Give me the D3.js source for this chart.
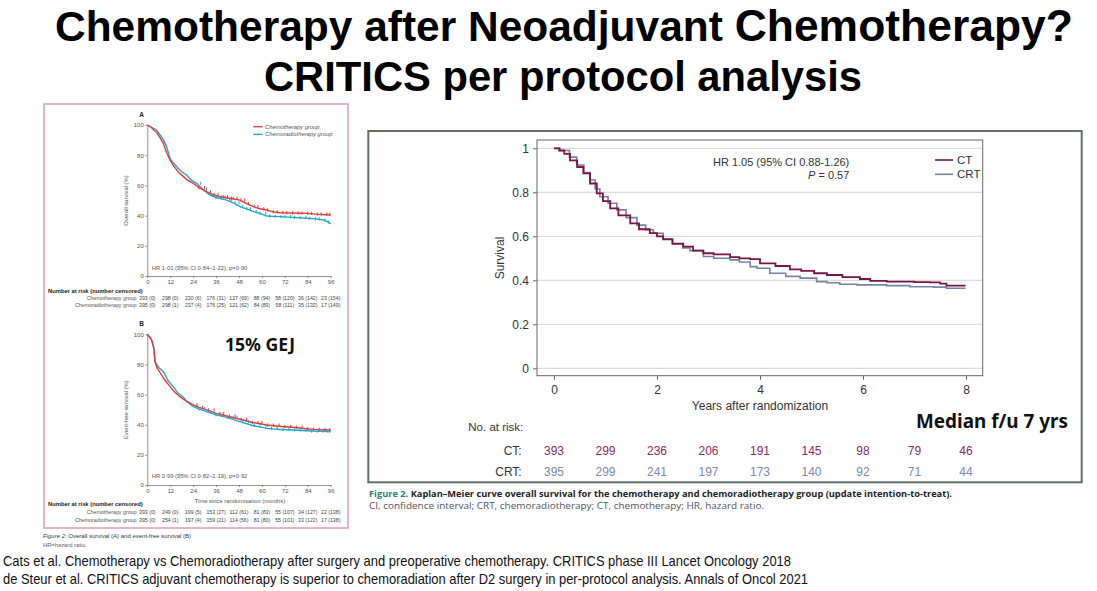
<!DOCTYPE html>
<html><head><meta charset="utf-8">
<script src="https://cdn.jsdelivr.net/npm/d3@7/dist/d3.min.js"></script>
<style>
html,body{margin:0;padding:0;background:#fff;}
svg{display:block;}
</style></head>
<body>
<script>
// ---------- DATA ----------
const titleLine1a = "Chemotherapy after Neoadjuvant ";
const titleLine1b = "Chemotherapy?";
const titleLine2 = "CRITICS per protocol analysis";

// Right chart (de Steur 2021): years vs survival
const yearTicks = [0, 2, 4, 6, 8];
const riskYears = [0, 1, 2, 3, 4, 5, 6, 7, 8];
const survTicks = [0, 0.2, 0.4, 0.6, 0.8, 1];
const ctRisk = [393, 299, 236, 206, 191, 145, 98, 79, 46];
const crtRisk = [395, 299, 241, 197, 173, 140, 92, 71, 44];
const ctCurve = [[0,1.0],[0.1,0.99],[0.2,0.975],[0.31,0.945],[0.45,0.915],[0.57,0.886],[0.7,0.84],[0.83,0.795],[0.95,0.76],[1.09,0.727],[1.25,0.695],[1.48,0.659],[1.65,0.632],[1.86,0.614],[2.0,0.6],[2.12,0.586],[2.3,0.567],[2.51,0.553],[2.7,0.535],[2.9,0.523],[3.1,0.518],[3.42,0.505],[3.6,0.5],[3.81,0.496],[4.0,0.477],[4.3,0.465],[4.58,0.45],[4.8,0.443],[5.05,0.432],[5.3,0.424],[5.6,0.414],[5.94,0.406],[6.14,0.397],[6.46,0.394],[7.0,0.392],[7.3,0.391],[7.5,0.385],[7.62,0.376],[7.99,0.376]];
const crtCurve = [[0,1.0],[0.12,0.99],[0.3,0.96],[0.44,0.924],[0.58,0.89],[0.7,0.856],[0.8,0.815],[0.89,0.78],[1.05,0.75],[1.22,0.72],[1.4,0.685],[1.61,0.651],[1.78,0.63],[1.93,0.614],[2.12,0.588],[2.3,0.565],[2.5,0.547],[2.64,0.535],[2.9,0.508],[3.1,0.5],[3.42,0.493],[3.6,0.483],[3.81,0.462],[3.94,0.455],[4.19,0.432],[4.5,0.418],[4.78,0.41],[5.1,0.394],[5.3,0.389],[5.55,0.382],[5.88,0.379],[6.46,0.376],[6.91,0.371],[7.37,0.369],[7.62,0.364],[7.99,0.364]];

// Left charts (Cats 2018): months vs percent
const monthTicks = [0, 12, 24, 36, 48, 60, 72, 84, 96];
const pctTicks = [0, 20, 40, 60, 80, 100];
const osChemo = [[0,100],[2,98.5],[4,96],[5,95],[6.5,92],[8.4,87.9],[10,82],[11.9,76.8],[14,72.5],[16.5,68.5],[18.9,65.8],[21,63.5],[24.1,61.4],[27,58.5],[31.1,55.8],[34,54],[38,52.5],[43,51.5],[48.5,50.3],[52,48],[55.5,45.9],[59,44.5],[62.5,43.7],[66,42.5],[69.5,41.9],[76,41.7],[83.4,41.5],[88,41],[96,40.4]];
const osChemorad = [[0,100],[3,98],[4.9,96.7],[7,93],[8.5,90],[10.1,85.7],[12,77.5],[13.6,75],[16,71.5],[18,69],[20.6,66.9],[23,63.5],[25.8,61.4],[29,57.5],[32.8,53.6],[36,52],[41.5,50.3],[45,48.5],[48.5,45.9],[52,44.5],[55.5,42.6],[59,41.5],[62.5,39.7],[66,39.5],[69.5,39.3],[76,38.8],[83.4,38.2],[88,37.8],[92.2,37.1],[94.5,35.8],[96,34.4]];
const efsChemo = [[0,100],[2.3,96.2],[3.5,90],[4,82],[5,78],[6.6,74.8],[9,70],[11.9,65.3],[14,62],[17.1,58.6],[20,56],[24.1,53.1],[27,51.5],[31.1,49.8],[36,47.5],[41.5,45.8],[48.5,43.6],[55,41.5],[62.5,39.8],[70,38.8],[76.5,38.3],[82,37.5],[86.9,36.9],[96,36.5]];
const efsChemorad = [[0,100],[2,97],[3.5,91],[4,81.9],[6,78],[8.4,75.2],[11,69],[13.6,65.3],[16,61],[18.9,58.2],[21,55],[24.1,52],[27,50.5],[31.1,48.7],[36,46.5],[41.5,44.9],[48.5,42],[55,39.5],[62.5,37.6],[70,36.8],[76.5,36.5],[86,35.8],[96,35.4]];
const censorA1 = [27,30,33,35,37,39,40,42,44,45,47,49,51,53,56,58,61,63,66,68,71,73,76,79,81,84,86,89,91,94,95.5];
const censorA2 = [28,31,34,36,38,41,43,44,46,48,50,52,54,57,59,62,64,67,70,72,75,77,80,83,85,88,90,93,95];
const censorB1 = [26,29,32,35,38,40,43,46,49,52,55,58,60,63,66,69,72,75,78,81,84,87,90,93,95.5];
const censorB2 = [27,30,33,36,39,42,45,47,50,53,56,59,62,65,68,71,74,77,80,83,86,89,92,94,95.5];
const riskAChemo = ["393 (0)","298 (0)","230 (6)","176 (31)","127 (69)","88 (94)","58 (120)","36 (142)","23 (154)"];
const riskAChemorad = ["395 (0)","298 (1)","237 (4)","176 (25)","121 (62)","84 (89)","58 (111)","35 (132)","17 (149)"];
const riskBChemo = ["393 (0)","249 (0)","199 (5)","153 (27)","112 (61)","81 (83)","55 (107)","34 (127)","22 (138)"];
const riskBChemorad = ["395 (0)","254 (1)","197 (4)","159 (21)","114 (56)","81 (80)","55 (101)","33 (122)","17 (138)"];

// ---------- DRAW ----------
const svg = d3.select("body").append("svg").attr("width",1097).attr("height",591);
const SANS = "'Liberation Sans', Arial, sans-serif";
const NARROW = "'Liberation Sans Narrow', 'Liberation Sans', Arial, sans-serif";

// Title
const t1 = svg.append("text").attr("x",55).attr("y",41).attr("font-family",SANS).attr("font-weight","bold")
  .attr("fill","#000").attr("textLength",1018).attr("lengthAdjust","spacingAndGlyphs");
t1.append("tspan").attr("font-size",43).text(titleLine1a);
t1.append("tspan").attr("font-size",45).text(titleLine1b);
svg.append("text").attr("x",264).attr("y",91).attr("font-family",SANS).attr("font-weight","bold")
  .attr("font-size",43).attr("textLength",598).attr("lengthAdjust","spacingAndGlyphs").text(titleLine2);

// ---------- LEFT PANEL ----------
svg.append("rect").attr("x",44).attr("y",104).attr("width",304).attr("height",424)
  .attr("fill","none").attr("stroke","#dc9cb8").attr("stroke-width",1.5);

const RED = "#e23b3b", CYAN = "#22a7cc";
const xL = d3.scaleLinear().domain([0,96]).range([147.3,330.7]);

function stepVal(data, t){ let v = data[0][1]; for (const d of data){ if (d[0] <= t) v = d[1]; } return v; }

function leftChart(yTop, yBot, label, yLabel, hrText, hrY, c1, c2, cens1, cens2, risk1, risk2, opts){
  const y = d3.scaleLinear().domain([0,100]).range([yBot,yTop]);
  const g = svg.append("g");
  const ax = g.append("g").attr("transform",`translate(${xL(0)},0)`)
    .call(d3.axisLeft(y).tickValues(pctTicks).tickSize(2).tickSizeOuter(0).tickPadding(1.5));
  const bx = g.append("g").attr("transform",`translate(0,${yBot})`)
    .call(d3.axisBottom(xL).tickValues(monthTicks).tickSize(2).tickSizeOuter(0).tickPadding(2));
  [ax,bx].forEach(a=>{
    a.selectAll("path,line").attr("stroke","#666").attr("stroke-width",0.7);
    a.selectAll("text").attr("font-family",SANS).attr("font-size",6).attr("fill","#555");
  });
  const line = d3.line().x(d=>xL(d[0])).y(d=>y(d[1])).curve(d3.curveLinear);
  g.append("path").datum(c2).attr("d",line).attr("fill","none").attr("stroke",CYAN).attr("stroke-width",1.4);
  g.append("path").datum(c1).attr("d",line).attr("fill","none").attr("stroke",RED).attr("stroke-width",1.4);
  g.selectAll(".c2").data(cens2).join("line").attr("x1",d=>xL(d)).attr("x2",d=>xL(d))
    .attr("y1",d=>y(stepVal(c2,d))-1.6).attr("y2",d=>y(stepVal(c2,d))+1.6).attr("stroke",CYAN).attr("stroke-width",1);
  g.selectAll(".c1").data(cens1).join("line").attr("x1",d=>xL(d)).attr("x2",d=>xL(d))
    .attr("y1",d=>y(stepVal(c1,d))-1.6).attr("y2",d=>y(stepVal(c1,d))+1.6).attr("stroke",RED).attr("stroke-width",1);
  g.append("text").attr("x",139.3).attr("y",yTop-8).attr("font-family",SANS).attr("font-weight","bold")
    .attr("font-size",6.5).attr("fill","#222").text(label);
  g.append("text").attr("transform",`translate(128,${(yTop+yBot)/2}) rotate(-90)`).attr("text-anchor","middle")
    .attr("font-family",SANS).attr("font-size",5.8).attr("fill","#555").text(yLabel);
  g.append("text").attr("x",xL(0)+4.5).attr("y",hrY).attr("font-family",SANS).attr("font-size",5.8)
    .attr("fill","#555").text(hrText);
  if (opts.xLabel) g.append("text").attr("x",240).attr("y",opts.xLabelY).attr("text-anchor","middle")
    .attr("font-family",SANS).attr("font-size",5.8).attr("fill","#555").text(opts.xLabel);
  g.append("text").attr("x",48).attr("y",opts.nY).attr("font-family",SANS).attr("font-weight","bold")
    .attr("font-size",5.8).attr("fill","#222").text("Number at risk (number censored)");
  [[risk1,"Chemotherapy group",opts.r1Y],[risk2,"Chemoradiotherapy group",opts.r2Y]].forEach(([arr,name,ry])=>{
    g.append("text").attr("x",136.5).attr("y",ry).attr("text-anchor","end").attr("font-family",SANS)
      .attr("font-size",5.3).attr("fill","#555").text(name);
    g.selectAll(null).data(arr).join("text").attr("x",(d,i)=>xL(monthTicks[i])).attr("y",ry)
      .attr("text-anchor","middle").attr("font-family",SANS).attr("font-size",5.2).attr("fill","#444").text(d=>d);
  });
  return g;
}

const gA = leftChart(125, 276, "A", "Overall survival (%)", "HR 1·01 (95% CI 0·84–1·22); p=0·90", 270,
  osChemo, osChemorad, censorA1, censorA2, riskAChemo, riskAChemorad,
  {nY:293, r1Y:300, r2Y:307});
// legend A
[[RED,"Chemotherapy group",126.7],[CYAN,"Chemoradiotherapy group",134.3]].forEach(([c,txt,ly])=>{
  gA.append("line").attr("x1",253.3).attr("x2",262.7).attr("y1",ly).attr("y2",ly).attr("stroke",c).attr("stroke-width",1.3);
  gA.append("text").attr("x",265).attr("y",ly+2).attr("font-family",SANS).attr("font-style","italic")
    .attr("font-size",5.8).attr("fill","#555").text(txt);
});

leftChart(334.3, 485, "B", "Event-free survival (%)", "HR 0·99 (95% CI 0·82–1·19); p=0·92", 478.3,
  efsChemo, efsChemorad, censorB1, censorB2, riskBChemo, riskBChemorad,
  {xLabel:"Time since randomisation (months)", xLabelY:502.5, nY:506, r1Y:513.5, r2Y:521.5});

svg.append("text").attr("x",225).attr("y",350.7).attr("font-family","'Noto Sans', 'Open Sans', sans-serif")
  .attr("font-weight","bold").attr("font-size",17).attr("textLength",70).attr("lengthAdjust","spacingAndGlyphs")
  .attr("fill","#111").text("15% GEJ");

const fc = svg.append("text").attr("x",43).attr("y",538).attr("font-family",SANS).attr("font-size",6).attr("fill","#333");
fc.append("tspan").attr("font-style","italic").text("Figure 2: ");
fc.append("tspan").text("Overall survival (A) and event-free survival (B)");
svg.append("text").attr("x",43).attr("y",547).attr("font-family",SANS).attr("font-size",5.8).attr("fill","#666").text("HR=hazard ratio.");

// ---------- RIGHT PANEL ----------
svg.append("rect").attr("x",368.3).attr("y",131).attr("width",713.4).attr("height",351.3)
  .attr("fill","none").attr("stroke","#617165").attr("stroke-width",2);

const xR = d3.scaleLinear().domain([0,8]).range([554,966]);
const yR = d3.scaleLinear().domain([0,1]).range([368.3,148.3]);
const fL = 537, fR = 982.7, fT = 140, fB = 375.7;

svg.append("g").selectAll("line").data(survTicks).join("line")
  .attr("x1",fL).attr("x2",fR).attr("y1",d=>yR(d)).attr("y2",d=>yR(d)).attr("stroke","#dcdcdc").attr("stroke-width",1.2);
svg.append("rect").attr("x",fL).attr("y",fT).attr("width",fR-fL).attr("height",fB-fT)
  .attr("fill","none").attr("stroke","#666").attr("stroke-width",1);

const ya = svg.append("g").attr("transform",`translate(${fL},0)`)
  .call(d3.axisLeft(yR).tickValues(survTicks).tickFormat(d3.format("")).tickSize(4).tickSizeOuter(0).tickPadding(4));
const xa = svg.append("g").attr("transform",`translate(0,${fB})`)
  .call(d3.axisBottom(xR).tickValues(yearTicks).tickSize(4).tickSizeOuter(0).tickPadding(6));
[ya,xa].forEach(a=>{
  a.select(".domain").remove();
  a.selectAll("line").attr("stroke","#666");
  a.selectAll("text").attr("font-family",SANS).attr("font-size",12).attr("fill","#333");
});

const stepLine = d3.line().x(d=>xR(d[0])).y(d=>yR(d[1])).curve(d3.curveStepAfter);
const CTC = "#7a1443", CRTC = "#7583a8";
svg.append("path").datum(crtCurve).attr("d",stepLine).attr("fill","none").attr("stroke",CRTC).attr("stroke-width",1.6);
svg.append("path").datum(ctCurve).attr("d",stepLine).attr("fill","none").attr("stroke",CTC).attr("stroke-width",1.8);

svg.append("text").attr("transform","translate(504,258) rotate(-90)").attr("text-anchor","middle")
  .attr("font-family",SANS).attr("font-size",12).attr("fill","#333").text("Survival");
svg.append("text").attr("x",760).attr("y",410).attr("text-anchor","middle")
  .attr("font-family",SANS).attr("font-size",12).attr("fill","#333").text("Years after randomization");

svg.append("text").attr("x",849.3).attr("y",165.7).attr("text-anchor","end").attr("font-family",SANS)
  .attr("font-size",11).attr("fill","#333").text("HR 1.05 (95% CI 0.88-1.26)");
const pt = svg.append("text").attr("x",849.3).attr("y",179.3).attr("text-anchor","end").attr("font-family",SANS)
  .attr("font-size",11).attr("fill","#333");
pt.append("tspan").attr("font-style","italic").text("P");
pt.append("tspan").text(" = 0.57");

[[CTC,"CT",160],[CRTC,"CRT",174.3]].forEach(([c,txt,ly])=>{
  svg.append("line").attr("x1",935).attr("x2",953).attr("y1",ly).attr("y2",ly).attr("stroke",c).attr("stroke-width",1.6);
  svg.append("text").attr("x",957).attr("y",ly+4).attr("font-family",SANS).attr("font-size",11.5).attr("fill","#333").text(txt);
});

svg.append("text").attr("x",468.3).attr("y",431).attr("font-family",SANS).attr("font-size",11.5).attr("fill","#333").text("No. at risk:");
[["CT:",ctRisk,455,"#8a2a66"],["CRT:",crtRisk,476,"#8088ae"]].forEach(([lab,arr,ry,col])=>{
  svg.append("text").attr("x",521.7).attr("y",ry).attr("text-anchor","end").attr("font-family",SANS)
    .attr("font-size",12).attr("fill","#333").text(lab);
  svg.append("g").selectAll("text").data(arr).join("text").attr("x",(d,i)=>xR(riskYears[i])).attr("y",ry)
    .attr("text-anchor","middle").attr("font-family",SANS).attr("font-size",12).attr("fill",col).text(d=>d);
});

svg.append("text").attr("x",916).attr("y",428).attr("font-family","'Noto Sans', 'Open Sans', sans-serif")
  .attr("font-weight","bold").attr("font-size",20).attr("textLength",152).attr("lengthAdjust","spacingAndGlyphs")
  .attr("fill","#111").text("Median f/u 7 yrs");

const cap = svg.append("text").attr("x",369).attr("y",497).attr("font-family","'Open Sans', sans-serif")
  .attr("font-weight","bold").attr("font-size",9.5).attr("textLength",583).attr("lengthAdjust","spacingAndGlyphs");
cap.append("tspan").attr("fill","#2f7d73").text("Figure 2.");
cap.append("tspan").attr("fill","#222").text("  Kaplan\u2013Meier curve overall survival for the chemotherapy and chemoradiotherapy group (update intention-to-treat).");
svg.append("text").attr("x",369).attr("y",509).attr("font-family","'Open Sans', sans-serif").attr("font-size",9.5)
  .attr("fill","#555").attr("textLength",395).attr("lengthAdjust","spacingAndGlyphs")
  .text("CI, confidence interval; CRT, chemoradiotherapy; CT, chemotherapy; HR, hazard ratio.");

// ---------- BOTTOM REFERENCES ----------
svg.append("text").attr("x",3).attr("y",566).attr("font-family",NARROW).attr("font-size",15).attr("fill","#111")
  .attr("textLength",788).attr("lengthAdjust","spacingAndGlyphs")
  .text("Cats et al. Chemotherapy vs Chemoradiotherapy after surgery and preoperative chemotherapy. CRITICS phase III Lancet Oncology 2018");
svg.append("text").attr("x",3).attr("y",584).attr("font-family",NARROW).attr("font-size",15).attr("fill","#111")
  .attr("textLength",805).attr("lengthAdjust","spacingAndGlyphs")
  .text("de Steur et al. CRITICS adjuvant  chemotherapy is superior to chemoradiation after D2 surgery in per-protocol analysis. Annals of Oncol 2021");
</script>
</body></html>
